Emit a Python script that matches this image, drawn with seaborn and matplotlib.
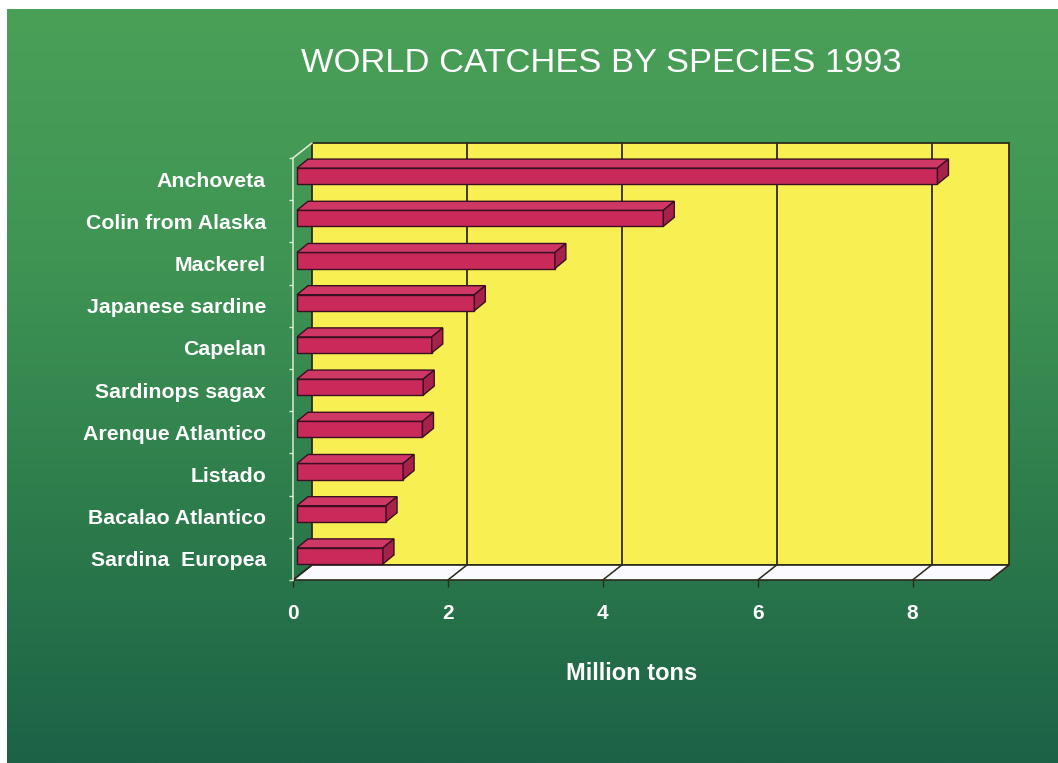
import numpy as np
import pandas as pd
import seaborn as sns
import matplotlib
matplotlib.use("Agg")
import matplotlib.pyplot as plt
from matplotlib.patches import Polygon, Rectangle
from matplotlib.transforms import ScaledTranslation
from matplotlib.colors import LinearSegmentedColormap

# ---------------- data ----------------
species = ["Anchoveta", "Colin from Alaska", "Mackerel", "Japanese sardine",
           "Capelan", "Sardinops sagax", "Arenque Atlantico", "Listado",
           "Bacalao Atlantico", "Sardina  Europea"]
catch_mt = [8.27, 4.73, 3.33, 2.29, 1.74, 1.63, 1.62, 1.37, 1.15, 1.11]
x_ticks = [0, 2, 4, 6, 8]
title = "WORLD CATCHES BY SPECIES 1993"
x_label = "Million tons"

# ---------------- style ----------------
sns.set_theme(style="ticks")
plt.rcParams["font.family"] = ["Liberation Sans", "DejaVu Sans"]

W, H = 1058, 763
fig = plt.figure(figsize=(W / 100, H / 100), dpi=100)
fig.patch.set_facecolor("white")

# green gradient background
bg = fig.add_axes([7 / W, 0, 1 - 7 / W, 1 - 9 / H])
bg.set_zorder(0)
cmap = LinearSegmentedColormap.from_list(
    "bg", ["#4aa057", "#3f9454", "#2d7c4c", "#1c6247"])
grad = np.linspace(0, 1, 256).reshape(-1, 1)
bg.imshow(grad, cmap=cmap, aspect="auto", extent=[0, 1, 0, 1], origin="upper")
bg.set_axis_off()

# main axes = front plane of the 3-D box
ax_l, ax_r, ax_t, ax_b = 293, 990, 158, 580
ax = fig.add_axes([ax_l / W, (H - ax_b) / H, (ax_r - ax_l) / W, (ax_b - ax_t) / H])
ax.set_zorder(1)
ax.patch.set_visible(False)

front_col = "#c92a5a"
top_col = "#cf3864"
cap_col = "#a6224a"
edge_col = "#3a0f22"
yellow = "#f8f052"
dark = "#2b2a1c"
light = "#d8ecd0"

df = pd.DataFrame({"species": species, "catch": catch_mt})
sns.barplot(data=df, x="catch", y="species", orient="h", color=front_col,
            saturation=1, width=0.38, edgecolor=edge_col, linewidth=1.0, ax=ax)

n = len(species)
ax.set_xlim(0, 9)
ax.set_ylim(n - 0.5, -0.5)

# depth of the box in axes fraction
wall_dx_px, wall_dy_px = 19, 15
fx = wall_dx_px / (ax_r - ax_l)
fy = wall_dy_px / (ax_b - ax_t)

# back wall
ax.add_patch(Rectangle((fx, fy), 1, 1, transform=ax.transAxes, facecolor=yellow,
                       edgecolor=dark, linewidth=1.3, zorder=0.2, clip_on=False))
# floor
ax.add_patch(Polygon([(0, 0), (1, 0), (1 + fx, fy), (fx, fy)], closed=True,
                     transform=ax.transAxes, facecolor="#fbfaff", edgecolor=dark,
                     linewidth=1.2, zorder=0.3, clip_on=False))
for xv in x_ticks:
    xf = ax.transLimits.transform((xv, 0))[0]
    if xv > 0:
        ax.plot([xf + fx, xf + fx], [fy, 1 + fy], transform=ax.transAxes,
                color=dark, lw=1.3, zorder=0.4, clip_on=False)
    ax.plot([xf, xf + fx], [0, fy], transform=ax.transAxes,
            color=dark, lw=1.1, zorder=0.4, clip_on=False)
# left wall top edge (light)
ax.plot([0, fx], [1, 1 + fy], transform=ax.transAxes, color=light, lw=1.2,
        zorder=0.4, clip_on=False)

# 3-D bars
p = ax.transData.transform([(0, 0), (1, 1)])
sx = p[1, 0] - p[0, 0]
sy = abs(p[1, 1] - p[0, 1])
ddx, ddy = 11 / sx, 9 / sy
bar_off = ScaledTranslation(4 / 100, 3 / 100, fig.dpi_scale_trans)
for r in list(ax.patches)[:n]:
    tr = ax.transData + bar_off
    r.set_transform(tr)
    r.set_zorder(2)
    x0, x1 = r.get_x(), r.get_x() + r.get_width()
    ytop, ybot = r.get_y(), r.get_y() + r.get_height()
    ax.add_patch(Polygon([(x0, ytop), (x1, ytop), (x1 + ddx, ytop - ddy),
                          (x0 + ddx, ytop - ddy)], closed=True, transform=tr,
                         facecolor=top_col, edgecolor=edge_col, linewidth=1.0,
                         zorder=2, clip_on=False))
    ax.add_patch(Polygon([(x1, ytop), (x1 + ddx, ytop - ddy), (x1 + ddx, ybot - ddy),
                          (x1, ybot)], closed=True, transform=tr,
                         facecolor=cap_col, edgecolor=edge_col, linewidth=1.0,
                         zorder=2, clip_on=False))

# spines / ticks
for s in ["top", "right", "bottom"]:
    ax.spines[s].set_visible(False)
ax.spines["left"].set_color(light)
ax.spines["left"].set_linewidth(1.1)
ax.set_xticks(x_ticks)
ax.set_xticklabels([str(v) for v in x_ticks])
ax.tick_params(axis="x", length=5, width=1, color=dark, pad=12,
               labelsize=15, labelcolor="white")
ax.set_yticks(np.arange(-0.5, n, 1), minor=True)
ax.tick_params(axis="y", which="major", length=0, pad=19.5,
               labelsize=15.3, labelcolor="white")
ax.tick_params(axis="y", which="minor", length=3, width=1, color=light)
for lab in ax.get_yticklabels() + ax.get_xticklabels():
    lab.set_fontweight("bold")
ax.set_ylabel("")
ax.set_xlabel(x_label, fontsize=17, fontweight="bold", color="white")
ax.xaxis.set_label_coords((632 - ax_l) / (ax_r - ax_l), (ax_b - 662) / (ax_b - ax_t))

fig.text(601 / W, 1 - 64 / H, title, ha="center", va="center", fontsize=24.8,
         color="white")

fig.savefig("out.png", dpi=100)
